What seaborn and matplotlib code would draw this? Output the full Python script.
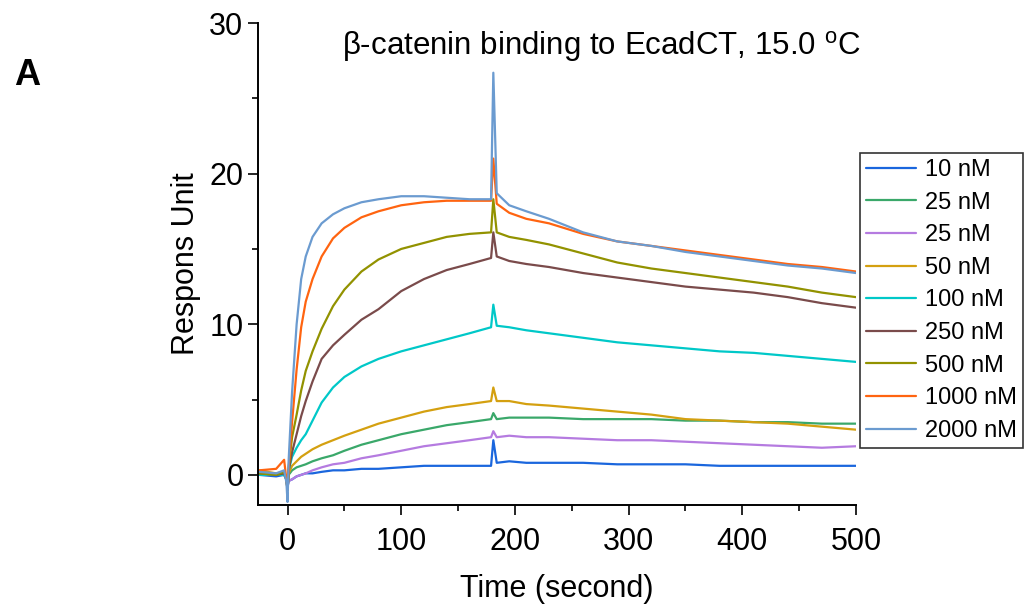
import matplotlib
matplotlib.use("Agg")
import matplotlib.pyplot as plt
import pandas as pd
import seaborn as sns
from matplotlib.ticker import MultipleLocator

# Time points (s)
time_s = [-25, -10, -3, -1, 0, 1, 4, 8, 12, 16, 22, 30, 40, 50, 65, 80, 100, 120,
          140, 160, 179, 181, 184, 195, 210, 230, 260, 290, 320, 350, 380, 410,
          440, 470, 500]

labels = ["10 nM", "25 nM", "25 nM", "50 nM", "100 nM", "250 nM", "500 nM",
          "1000 nM", "2000 nM"]
colors = ["#1a66dd", "#3aa86a", "#b57be0", "#d4a010", "#00c8c8", "#7a4b4b",
          "#929200", "#ff6410", "#6b9bd0"]

resp_10 = [0.0, -0.1, 0.0, -0.3, -0.8, -0.4, -0.3, -0.1, 0.0, 0.1, 0.1, 0.2, 0.3,
           0.3, 0.4, 0.4, 0.5, 0.6, 0.6, 0.6, 0.6, 2.3, 0.8, 0.9, 0.8, 0.8, 0.8,
           0.7, 0.7, 0.7, 0.6, 0.6, 0.6, 0.6, 0.6]
resp_25a = [0.1, 0.0, 0.1, -0.2, -0.8, 0.0, 0.3, 0.5, 0.6, 0.7, 0.9, 1.1, 1.3,
            1.6, 2.0, 2.3, 2.7, 3.0, 3.3, 3.5, 3.7, 4.1, 3.7, 3.8, 3.8, 3.8, 3.7,
            3.7, 3.7, 3.6, 3.6, 3.5, 3.5, 3.4, 3.4]
resp_25b = [0.0, 0.0, 0.0, -0.2, -0.8, -0.4, -0.3, -0.1, 0.0, 0.1, 0.3, 0.5, 0.7,
            0.8, 1.1, 1.3, 1.6, 1.9, 2.1, 2.3, 2.5, 2.9, 2.5, 2.6, 2.5, 2.5, 2.4,
            2.3, 2.3, 2.2, 2.1, 2.0, 1.9, 1.8, 1.9]
resp_50 = [0.3, 0.1, 0.2, -0.2, -1.0, 0.1, 0.6, 0.9, 1.2, 1.4, 1.7, 2.0, 2.3, 2.6,
           3.0, 3.4, 3.8, 4.2, 4.5, 4.7, 4.9, 5.8, 4.9, 4.9, 4.7, 4.6, 4.4, 4.2,
           4.0, 3.7, 3.6, 3.5, 3.4, 3.2, 3.0]
resp_100 = [0.0, 0.0, 0.0, -0.3, -1.0, 0.3, 1.2, 1.8, 2.3, 2.7, 3.6, 4.8, 5.8, 6.5,
            7.2, 7.7, 8.2, 8.6, 9.0, 9.4, 9.8, 11.3, 9.9, 9.8, 9.6, 9.4, 9.1, 8.8,
            8.6, 8.4, 8.2, 8.1, 7.9, 7.7, 7.5]
resp_250 = [0.1, 0.0, 0.1, -0.3, -1.0, 0.3, 1.5, 2.7, 3.9, 4.9, 6.2, 7.7, 8.6, 9.3,
            10.3, 11.0, 12.2, 13.0, 13.6, 14.0, 14.4, 16.1, 14.5, 14.2, 14.0, 13.8,
            13.4, 13.1, 12.8, 12.5, 12.3, 12.1, 11.8, 11.4, 11.1]
resp_500 = [0.1, 0.0, 0.2, -0.3, -1.0, 0.5, 2.5, 4.0, 5.6, 6.9, 8.2, 9.7, 11.2,
            12.3, 13.5, 14.3, 15.0, 15.4, 15.8, 16.0, 16.1, 18.3, 16.1, 15.8, 15.6,
            15.3, 14.7, 14.1, 13.7, 13.4, 13.1, 12.8, 12.5, 12.1, 11.8]
resp_1000 = [0.3, 0.4, 1.0, -0.3, -1.0, 0.5, 3.5, 7.0, 9.8, 11.5, 13.0, 14.5, 15.7,
             16.4, 17.1, 17.5, 17.9, 18.1, 18.2, 18.2, 18.2, 21.0, 18.0, 17.4,
             17.0, 16.7, 16.0, 15.5, 15.2, 14.9, 14.6, 14.3, 14.0, 13.8, 13.5]
resp_2000 = [0.2, 0.1, 0.3, -0.5, -1.8, 1.0, 5.5, 10.0, 13.0, 14.5, 15.8, 16.7,
             17.3, 17.7, 18.1, 18.3, 18.5, 18.5, 18.4, 18.3, 18.3, 26.7, 18.7,
             17.9, 17.5, 17.0, 16.1, 15.5, 15.2, 14.8, 14.5, 14.2, 13.9, 13.7, 13.4]

series = [resp_10, resp_25a, resp_25b, resp_50, resp_100, resp_250, resp_500,
          resp_1000, resp_2000]

sns.set_style("ticks")
plt.rcParams["font.family"] = ["Liberation Sans", "DejaVu Sans"]
plt.rcParams["text.color"] = "black"
plt.rcParams["axes.labelcolor"] = "black"

fig = plt.figure(figsize=(10.29, 6.06), dpi=100)
ax = fig.add_axes([0.2507, 0.1667, 0.5812, 0.7953])

for vals, lab, col in zip(series, labels, colors):
    df = pd.DataFrame({"time": time_s, "resp": vals})
    sns.lineplot(data=df, x="time", y="resp", color=col, label=lab, lw=1.6, ax=ax)

ax.set_xlim(-26, 500)
ax.set_ylim(-2, 30)
ax.xaxis.set_major_locator(MultipleLocator(100))
ax.xaxis.set_minor_locator(MultipleLocator(50))
ax.yaxis.set_major_locator(MultipleLocator(10))
ax.yaxis.set_minor_locator(MultipleLocator(5))
ax.tick_params(which="major", length=7, width=1.2, labelsize=22, colors="black")
ax.tick_params(which="minor", length=4, width=1.2, colors="black")
ax.tick_params(axis="x", which="major", pad=9)
sns.despine(ax=ax)
for sp in ["left", "bottom"]:
    ax.spines[sp].set_linewidth(1.4)
    ax.spines[sp].set_color("black")

ax.set_xlabel("Time (second)", fontsize=22, labelpad=12)
ax.set_ylabel("Respons Unit", fontsize=22, labelpad=6)
ax.text(0.574, 0.988, "\u03b2-catenin binding to EcadCT, 15.0 $^{\\mathregular{o}}$C",
        transform=ax.transAxes, ha="center", va="top", fontsize=22.5)
fig.text(0.014, 0.86, "A", fontsize=26, fontweight="bold")

leg = ax.legend(loc="upper left", bbox_to_anchor=(0.8358, 0.7475),
                bbox_transform=fig.transFigure, fontsize=17, frameon=True,
                fancybox=False, edgecolor="black", handlelength=2.1,
                labelspacing=0.45, borderpad=0.25, handletextpad=0.4,
                borderaxespad=0)
leg.get_frame().set_linewidth(1.2)

fig.savefig("out.png", dpi=100)
